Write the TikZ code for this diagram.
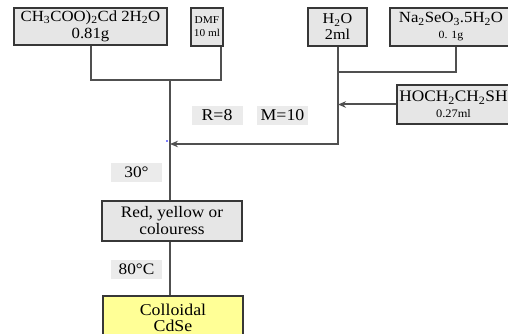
\documentclass[tikz,border=0pt]{standalone}
\usepackage{fontspec}
\setmainfont{Liberation Serif}[FakeStretch=1.08]
\usetikzlibrary{arrows.meta}
\definecolor{boxgray}{RGB}{230,230,230}
\definecolor{labgray}{RGB}{235,235,235}
\definecolor{pale}{RGB}{255,255,150}
\definecolor{edge}{RGB}{55,55,55}
\definecolor{wire}{RGB}{80,80,80}
\begin{document}
\begin{tikzpicture}[x=1pt,y=-1pt,
  box/.style={draw=edge, line width=1.6pt, fill=boxgray, align=center, inner sep=0pt,
    font=\fontsize{17}{16.5}\selectfont},
  lab/.style={fill=labgray, inner sep=0pt, minimum width=51pt, minimum height=19pt,
    font=\fontsize{16.5}{16}\selectfont},
  wireline/.style={draw=wire, line width=2pt},
  arr/.style={wireline, -{Stealth[length=8pt,width=6.5pt]}}]
\useasboundingbox (0,0) rectangle (508,334);
% boxes
\node[box, minimum width=153pt, minimum height=37pt, font=\fontsize{15.5}{17}\selectfont] (A) at (90.5,26.5)
  {CH\textsubscript{3}COO)\textsubscript{2}Cd 2H\textsubscript{2}O\\0.81g};
\node[box, minimum width=32pt, minimum height=38pt, font=\fontsize{10.5}{13}\selectfont] (B) at (207,27)
  {DMF\\10 ml};
\node[box, minimum width=59pt, minimum height=38pt, font=\fontsize{15}{16}\selectfont] (C) at (337.5,27)
  {H\textsubscript{2}O\\2ml};
\node[box, minimum width=122pt, minimum height=38pt, font=\fontsize{15.5}{16}\selectfont] (D) at (451,27)
  {Na\textsubscript{2}SeO\textsubscript{3}.5H\textsubscript{2}O\\{\fontsize{11}{16}\selectfont 0. 1g}};
\node[box, minimum width=113pt, minimum height=39pt, font=\fontsize{16}{16}\selectfont] (E) at (453.5,104.5)
  {HOCH\textsubscript{2}CH\textsubscript{2}SH\\{\fontsize{11.5}{16}\selectfont 0.27ml}};
\node[box, minimum width=140pt, minimum height=40pt, font=\fontsize{16}{17}\selectfont] (F) at (172,221)
  {Red, yellow or\\colouress};
\node[box, fill=pale, minimum width=140pt, minimum height=44pt, font=\fontsize{16.5}{16.5}\selectfont] (G) at (173,318)
  {Colloidal\\CdSe};
% labels
\node[lab] (R) at (217,115.5) {R=8};
\node[lab] (M) at (282.5,115.5) {M=10};
\node[lab, font=\fontsize{16}{16}\selectfont] (t30) at (136.5,172.5) {30°};
\node[lab, font=\fontsize{16}{16}\selectfont] (t80) at (136.5,269) {80°C};
% junctions
\coordinate (jAB) at (170,80);
\coordinate (jCD) at (338,72);
\coordinate (bend) at (338,144);
\coordinate (hit) at (170,144);
% connectors
\draw[wireline] (A.south) |- (jAB) -| ([xshift=-3pt]B.south east);
\draw[wireline] (jAB) -- (jAB |- F.north);
\draw[wireline] (C.south) |- (jCD) -| ([xshift=5pt]D.south);
\draw[arr] (jCD) -- (bend) -- (hit);
\draw[arr] (E.west) -- (E.west -| bend);
\draw[wireline] (F.south -| jAB) -- (G.north -| jAB);
\fill[blue] (167,141) circle (0.9pt);
\end{tikzpicture}
\end{document}
